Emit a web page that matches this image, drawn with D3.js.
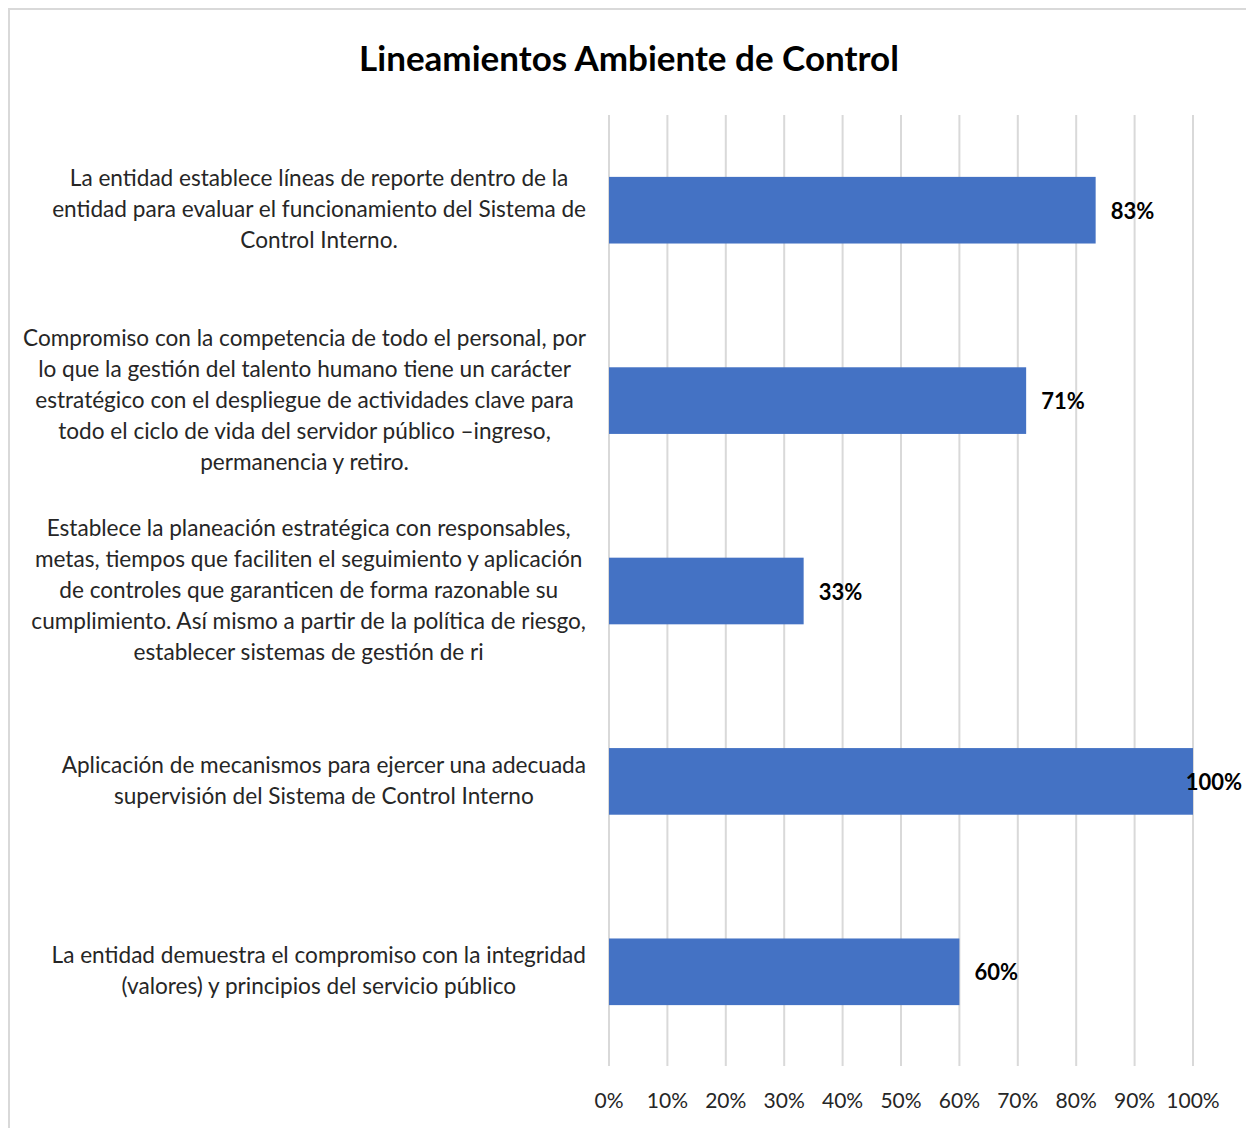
<!DOCTYPE html>
<html>
<head>
<meta charset="utf-8">
<script src="https://cdn.jsdelivr.net/npm/d3@7"></script>
<style>
  body { margin: 0; background: #fff; }
  svg text { font-family: Lato, "Open Sans", sans-serif; fill: #000; }
  .cat { font-size: 22.6px; fill: #262626; }
  .tick-label { font-size: 21px; fill: #262626; }
  .val { font-size: 22px; font-weight: bold; }
  .title { font-size: 35px; font-weight: bold; }
</style>
</head>
<body>
<svg width="1246" height="1128"></svg>
<script>
// category labels, already wrapped as in the picture (top to bottom)
const categories = [
  ["La entidad establece líneas de reporte dentro de la",
   "entidad para evaluar el funcionamiento del Sistema de",
   "Control Interno."],
  ["Compromiso con la competencia de todo el personal, por",
   "lo que la gestión del talento humano tiene un carácter",
   "estratégico con el despliegue de actividades clave para",
   "todo el ciclo de vida del servidor público –ingreso,",
   "permanencia y retiro."],
  ["Establece la planeación estratégica con responsables,",
   "metas, tiempos que faciliten el seguimiento y aplicación",
   "de controles que garanticen de forma razonable su",
   "cumplimiento. Así mismo a partir de la política de riesgo,",
   "establecer sistemas de gestión de ri"],
  ["Aplicación de mecanismos para ejercer una adecuada",
   "supervisión del Sistema de Control Interno"],
  ["La entidad demuestra el compromiso con la integridad",
   "(valores) y principios del servicio público"]
];
const values = [83.33, 71.43, 33.33, 100, 60];
const xTicks = [0, 10, 20, 30, 40, 50, 60, 70, 80, 90, 100];
const title = "Lineamientos Ambiente de Control";

const svg = d3.select("svg");

// chart frame
svg.append("rect")
    .attr("x", 9).attr("y", 9)
    .attr("width", 1260).attr("height", 1140)
    .attr("fill", "#fff")
    .attr("stroke", "#d9d9d9")
    .attr("stroke-width", 2);

svg.append("text")
    .attr("class", "title")
    .attr("x", 629).attr("y", 57)
    .attr("text-anchor", "middle")
    .attr("dominant-baseline", "central")
    .text(title);

const x = d3.scaleLinear().domain([0, 100]).range([609, 1193]);
const y = d3.scaleBand()
    .domain(d3.range(categories.length))
    .range([115, 1067])
    .paddingInner(0.65)
    .paddingOuter(0.325);

// gridlines
svg.append("g")
    .selectAll("line")
    .data(xTicks)
    .join("line")
    .attr("x1", d => x(d)).attr("x2", d => x(d))
    .attr("y1", 115).attr("y2", 1066)
    .attr("stroke", "#d9d9d9")
    .attr("stroke-width", 2);

// tick labels
svg.append("g")
    .selectAll("text")
    .data(xTicks)
    .join("text")
    .attr("class", "tick-label")
    .attr("x", d => x(d))
    .attr("y", 1099)
    .attr("text-anchor", "middle")
    .attr("dominant-baseline", "central")
    .text(d => d + "%");

// bars
svg.append("g")
    .selectAll("rect")
    .data(values)
    .join("rect")
    .attr("x", x(0))
    .attr("y", (d, i) => y(i))
    .attr("width", d => x(d) - x(0))
    .attr("height", y.bandwidth())
    .attr("fill", "#4472c4");

// value labels
const vals = svg.append("g")
    .selectAll("text")
    .data(values)
    .join("text")
    .attr("class", "val")
    .attr("y", (d, i) => y(i) + y.bandwidth() / 2)
    .attr("dominant-baseline", "central")
    .text(d => Math.round(d) + "%");
vals.each(function(d) {
    const w = this.getComputedTextLength();
    const left = Math.min(x(d) + 15, 1242 - w);
    d3.select(this).attr("x", left);
});

// category labels: centered lines in a box right-aligned at 586
const lineH = 31;
categories.forEach((lines, i) => {
    const cy = y(i) + y.bandwidth() / 2 - 1.5;
    const g = svg.append("g");
    const t = g.selectAll("text")
        .data(lines)
        .join("text")
        .attr("class", "cat")
        .attr("text-anchor", "middle")
        .attr("dominant-baseline", "central")
        .attr("y", (d, j) => cy + (j - (lines.length - 1) / 2) * lineH)
        .text(d => d);
    let maxW = 0;
    t.each(function() { maxW = Math.max(maxW, this.getComputedTextLength()); });
    t.attr("x", 586 - maxW / 2);
});
</script>
</body>
</html>
